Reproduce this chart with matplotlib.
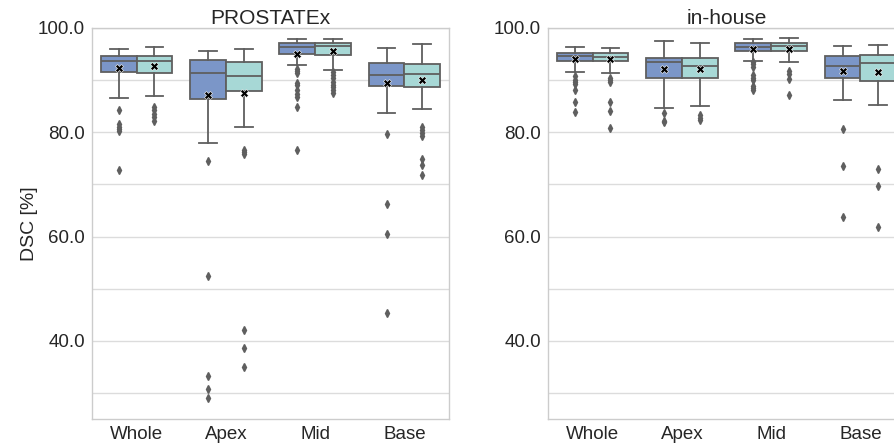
import matplotlib
matplotlib.use("Agg")
import matplotlib.pyplot as plt
from matplotlib.ticker import MultipleLocator, FormatStrFormatter

plt.rcParams['font.family'] = ['Liberation Sans', 'DejaVu Sans']

categories = ["Whole", "Apex", "Mid", "Base"]
panels = ["PROSTATEx", "in-house"]
hue_colors = ["#7b96c8", "#a7d8d6"]

# stats per panel, per category, per hue: (whislo, q1, med, q3, whishi, mean, fliers)
prostatex_blue = [
    (86.6, 91.6, 93.6, 94.7, 96.0, 92.3, [84.2, 81.5, 81.0, 80.6, 80.3, 72.8]),
    (78.0, 86.3, 91.3, 93.9, 95.5, 87.2, [74.4, 52.4, 33.3, 30.8, 29.1]),
    (92.9, 95.1, 96.4, 97.1, 97.8, 95.1, [92.1, 91.7, 91.3, 89.5, 89.1, 88.1, 87.3, 86.7, 84.9, 76.6]),
    (83.6, 88.9, 90.9, 93.3, 96.1, 89.4, [79.6, 66.3, 60.4, 45.3]),
]
prostatex_teal = [
    (87.0, 91.4, 93.7, 94.7, 96.4, 92.65, [84.9, 84.3, 83.5, 82.9, 82.2]),
    (81.1, 87.9, 90.7, 93.4, 96.0, 87.6, [76.6, 76.2, 75.8, 42.0, 38.6, 34.9]),
    (91.9, 94.9, 96.5, 97.1, 97.9, 95.5, [91.5, 91.0, 90.4, 89.7, 89.1, 88.6, 88.1, 87.6]),
    (84.4, 88.7, 91.1, 93.0, 96.9, 90.1, [81.0, 80.4, 79.9, 79.3, 74.8, 73.7, 71.8]),
]
inhouse_blue = [
    (91.5, 93.7, 94.7, 95.3, 96.4, 94.0, [90.8, 90.0, 89.6, 89.2, 88.2, 85.8, 83.9]),
    (84.7, 90.4, 93.4, 94.3, 97.6, 92.1, [83.6, 82.2, 81.9]),
    (93.7, 95.6, 96.4, 97.1, 97.9, 96.0, [93.4, 93.0, 92.6, 91.0, 90.5, 90.0, 88.9, 88.5, 88.2]),
    (86.1, 90.4, 92.7, 94.7, 96.5, 91.8, [80.7, 73.5, 63.8]),
]
inhouse_teal = [
    (91.4, 93.7, 94.4, 95.3, 96.2, 94.0, [90.5, 90.0, 89.6, 85.9, 84.1, 80.8]),
    (85.0, 90.4, 92.8, 94.3, 97.1, 92.1, [83.3, 82.8, 82.4]),
    (93.4, 95.5, 96.6, 97.1, 98.1, 96.0, [91.8, 91.2, 90.2, 87.2]),
    (85.2, 89.8, 93.2, 94.8, 96.8, 91.6, [72.9, 69.6, 61.9]),
]

panel_data = [(prostatex_blue, prostatex_teal), (inhouse_blue, inhouse_teal)]

fig = plt.figure(figsize=(8.94, 4.45), dpi=100)
ax_rects = [[92/894, 26/445, 357/894, 391/445], [548/894, 26/445, 357/894, 391/445]]

edge = "#5f5f5f"
for pi, (title, rect, series) in enumerate(zip(panels, ax_rects, panel_data)):
    ax = fig.add_axes(rect)
    ax.set_facecolor("white")
    for hi, (hue_stats, col) in enumerate(zip(series, hue_colors)):
        stats = []
        for (lo, q1, med, q3, hi_, mean, fl) in hue_stats:
            stats.append(dict(whislo=lo, q1=q1, med=med, q3=q3, whishi=hi_, mean=mean, fliers=fl))
        positions = [i - 0.2 + 0.4 * hi for i in range(len(categories))]
        ax.bxp(stats, positions=positions, widths=0.4, patch_artist=True, showmeans=True,
               boxprops=dict(facecolor=col, edgecolor=edge, linewidth=1.3),
               medianprops=dict(color=edge, linewidth=1.3),
               whiskerprops=dict(color=edge, linewidth=1.3),
               capprops=dict(color=edge, linewidth=1.3),
               flierprops=dict(marker='d', markerfacecolor=edge, markeredgecolor=edge,
                               markersize=4, linestyle='none'),
               meanprops=dict(marker='X', markerfacecolor='black', markeredgecolor='white',
                              markeredgewidth=0.4, markersize=5.5),
               manage_ticks=False, zorder=3)
    ax.set_xlim(-0.5, len(categories) - 0.5)
    ax.set_ylim(25, 100)
    ax.set_xticks(range(len(categories)))
    ax.set_xticklabels(categories, fontsize=13.5, color="#262626")
    ax.yaxis.set_major_locator(MultipleLocator(20))
    ax.yaxis.set_minor_locator(MultipleLocator(10))
    ax.yaxis.set_major_formatter(FormatStrFormatter('%.1f'))
    ax.set_yticks([40, 60, 80, 100])
    ax.tick_params(axis='y', labelsize=13.5, labelcolor="#262626", length=0, which='both', pad=5)
    ax.tick_params(axis='x', length=0, pad=5)
    ax.grid(True, axis='y', which='both', color="#dcdcdc", linewidth=1.0, zorder=0)
    ax.grid(False, axis='x')
    ax.set_axisbelow(True)
    for s in ax.spines.values():
        s.set_color("#cccccc")
        s.set_linewidth(1.0)
    ax.set_title(title, fontsize=15, color="#262626", pad=3)
    if pi == 0:
        ax.set_ylabel("DSC [%]", fontsize=14, color="#262626", labelpad=0)

fig.savefig("out.png", dpi=100)
